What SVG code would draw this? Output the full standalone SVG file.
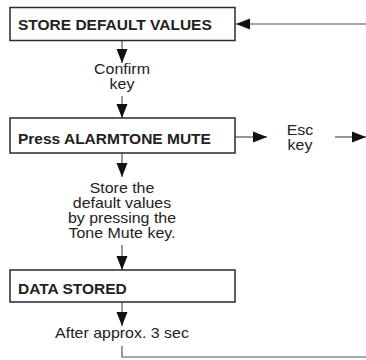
<svg xmlns="http://www.w3.org/2000/svg" width="366" height="360" viewBox="0 0 366 360">
<defs>
<marker id="ah" markerUnits="userSpaceOnUse" markerWidth="15" markerHeight="12" refX="14" refY="6" orient="auto">
<polygon points="0,0.5 14,6 0,11.5" fill="#111"/>
</marker>
<style>
.box{fill:#fff;stroke:#2a2a2a;stroke-width:1.5}
.bt{font-family:"Liberation Sans",Arial,sans-serif;font-weight:bold;font-size:15.5px;fill:#222}
.t{font-family:"Liberation Sans",Arial,sans-serif;font-size:14px;fill:#222;text-anchor:middle}
.c{fill:none;stroke:#555;stroke-width:1.2}
.a{marker-end:url(#ah)}
</style>
</defs>
<rect width="366" height="360" fill="#fff"/>
<g id="connectors">
<line class="c a" x1="366" y1="24" x2="236" y2="24"/>
<line class="c a" x1="122" y1="41" x2="122" y2="63"/>
<line class="c a" x1="122" y1="96" x2="122" y2="118"/>
<line class="c a" x1="235" y1="137" x2="267" y2="137"/>
<line class="c a" x1="335" y1="137" x2="366" y2="137"/>
<line class="c a" x1="122" y1="153" x2="122" y2="177"/>
<line class="c a" x1="122" y1="245" x2="122" y2="270"/>
<line class="c a" x1="122" y1="302" x2="122" y2="326"/>
<polyline class="c" points="122,346 122,357 366,357"/>
</g>
<g id="n1">
<rect class="box" x="10" y="7.5" width="225" height="33"/>
<text class="bt" x="18" y="29.5">STORE DEFAULT VALUES</text>
</g>
<g id="l1" transform="translate(122,0) scale(1.14,1)">
<text class="t" x="0" y="74">Confirm</text>
<text class="t" x="0" y="89">key</text>
</g>
<g id="n2">
<rect class="box" x="10" y="118" width="225" height="35"/>
<text class="bt" x="18" y="143.5">Press ALARMTONE MUTE</text>
</g>
<g id="l2" transform="translate(300,0) scale(1.14,1)">
<text class="t" x="0" y="135">Esc</text>
<text class="t" x="0" y="150">key</text>
</g>
<g id="l3" transform="translate(122,0) scale(1.14,1)">
<text class="t" x="0" y="193">Store the</text>
<text class="t" x="0" y="208">default values</text>
<text class="t" x="0" y="223">by pressing the</text>
<text class="t" x="0" y="238">Tone Mute key.</text>
</g>
<g id="n3">
<rect class="box" x="10" y="270" width="225" height="32"/>
<text class="bt" x="18" y="294">DATA STORED</text>
</g>
<g id="l4" transform="translate(122,0) scale(1.14,1)">
<text class="t" x="0" y="338">After approx. 3 sec</text>
</g>
</svg>
